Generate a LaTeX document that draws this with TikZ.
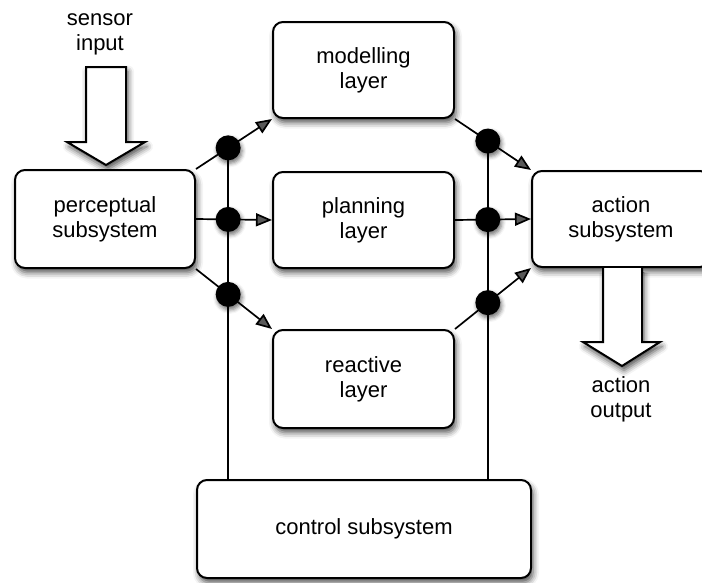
\documentclass[tikz,border=0pt]{standalone}
\usepackage{fontspec}
\setmainfont{Liberation Sans}
\usetikzlibrary{arrows.meta,shadows.blur,calc}

\tikzset{
  soft/.style={blur shadow={shadow xshift=2pt, shadow yshift=-4.5pt,
      shadow blur radius=6pt, shadow opacity=70}},
  unit/.style={draw=black, line width=2pt, fill=white, rounded corners=10pt,
      soft, align=center, inner sep=0pt,
      font=\fontsize{22}{25}\selectfont},
  label/.style={align=center, inner sep=0pt, font=\fontsize{22}{25}\selectfont},
  joint/.style={circle, fill=black, minimum size=25pt, inner sep=0pt,
      blur shadow={shadow xshift=1.5pt, shadow yshift=-3pt,
      shadow blur radius=4pt, shadow opacity=55}},
  link/.style={line width=1.7pt},
  flow/.style={link, -{Triangle[length=16pt, width=13pt]}},
  bigarrow/.style={draw=black, line width=2pt, fill=white, line join=miter, soft},
}

\begin{document}
\begin{tikzpicture}[x=1pt, y=-1pt]
  \useasboundingbox (0,0) rectangle (702,582);
  \clip (0,0) rectangle (702,582);

  % input and output arrows
  \draw[bigarrow] (86,67) -- (126,67) -- (126,142) -- (145,142) -- (106,165)
     -- (67,142) -- (86,142) -- cycle;
  \node[label] (sin) at (100,34.5) {sensor\\input};

  % the boxes
  \node[unit, minimum width=180pt, minimum height=98pt] (per) at (105,219) {perceptual\\subsystem};
  \node[unit, minimum width=181pt, minimum height=96pt] (mod) at (363.5,70) {modelling\\layer};
  \node[unit, minimum width=181pt, minimum height=96pt] (pla) at (363.5,220) {planning\\layer};
  \node[unit, minimum width=181pt, minimum height=98pt] (rea) at (363.5,379) {reactive\\layer};
  \node[unit, minimum width=178pt, minimum height=96pt] (act) at (621,219) {action\\subsystem};
  \node[unit, minimum width=334pt, minimum height=98pt] (con) at (364,529) {control subsystem};

  \filldraw[bigarrow] (603,268) -- (603,342) -- (583,342) -- (622,366)
     -- (660,342) -- (642,342) -- (642,268);
  \node[label] (aout) at (621,399.5) {action\\output};

  % links from the perceptual subsystem to the layers
  \path (per.north east) -- (mod.south west) coordinate[pos=0.423] (l1);
  \path (per.east) -- (pla.west) coordinate[pos=0.423] (l2);
  \path (per.south east) -- (rea.north west) coordinate[pos=0.423] (l3);
  % links from the layers to the action subsystem
  \path (mod.south east) -- (act.north west) coordinate[pos=0.432] (r1);
  \path (pla.east) -- (act.west) coordinate[pos=0.432] (r2);
  \path (rea.north east) -- (act.south west) coordinate[pos=0.432] (r3);

  % control lines
  \draw[link] (l1) -- (l1 |- con.north);
  \draw[link] (r1) -- (r1 |- con.north);

  \draw[link] (per.north east) -- (l1);
  \draw[flow] (l1) -- (mod.south west);
  \draw[link] (per.east) -- (l2);
  \draw[flow] (l2) -- (pla.west);
  \draw[link] (per.south east) -- (l3);
  \draw[flow] (l3) -- (rea.north west);

  \draw[link] (mod.south east) -- (r1);
  \draw[flow] (r1) -- (act.north west);
  \draw[link] (pla.east) -- (r2);
  \draw[flow] (r2) -- (act.west);
  \draw[link] (rea.north east) -- (r3);
  \draw[flow] (r3) -- (act.south west);

  % junction dots
  \foreach \j in {l1,l2,l3,r1,r2,r3}
    \node[joint] (d\j) at (\j) {};
\end{tikzpicture}
\end{document}
